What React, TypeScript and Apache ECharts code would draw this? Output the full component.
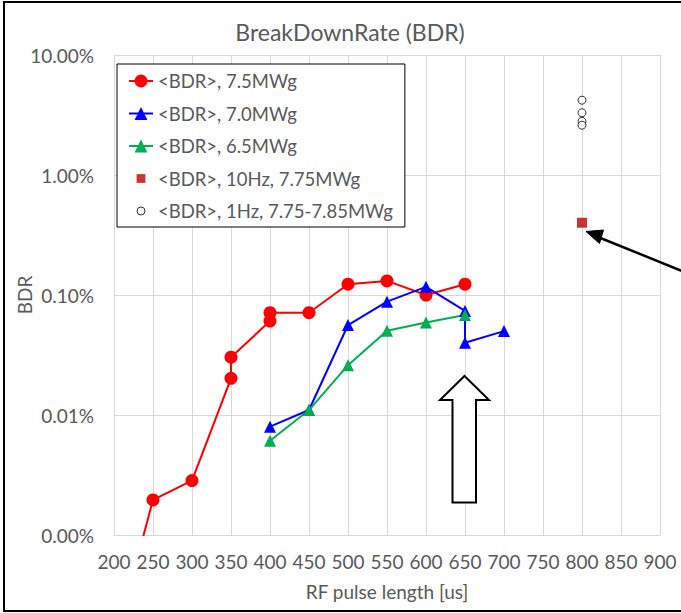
import React, { useEffect, useRef } from "react";
import * as echarts from "echarts";

// ---- data (BDR as fraction, x = RF pulse length in us) ----
const red75X = [200, 250, 300, 350, 350, 400, 400, 450, 500, 550, 600, 650];
const red75Y = [0.0000012, 0.0000196, 0.0000284, 0.000202, 0.000303, 0.000607, 0.000712, 0.000712, 0.00123, 0.00131, 0.001, 0.00123];

const blue70X = [400, 450, 500, 550, 600, 650, 650, 700];
const blue70Y = [0.00008, 0.00011, 0.000562, 0.00088, 0.00117, 0.000736, 0.0004, 0.0005];

const green65X = [400, 450, 500, 550, 600, 650];
const green65Y = [0.000061, 0.00011, 0.00026, 0.000504, 0.00059, 0.00068];

const sq10HzX = [800];
const sq10HzY = [0.004];

const circ1HzX = [800, 800, 800, 800];
const circ1HzY = [0.042, 0.033, 0.028, 0.026];

const seriesNames = [
  "<BDR>, 7.5MWg",
  "<BDR>, 7.0MWg",
  "<BDR>, 6.5MWg",
  "<BDR>, 10Hz, 7.75MWg",
  "<BDR>, 1Hz, 7.75-7.85MWg",
];

const xTicks = { min: 200, max: 900, interval: 50 };
const yRange = { min: 0.00001, max: 0.1 };

const zip = (xs: number[], ys: number[]) => xs.map((x, i) => [x, ys[i]]);

const FONT = "Lato";
const TXT = "#595959";
const FS = 19;

export default function App() {
  const ref = useRef<HTMLDivElement>(null);
  useEffect(() => {
    if (!ref.current) return;
    const chart = echarts.init(ref.current, undefined, { renderer: "svg" });
    chart.setOption({
      animation: false,
      backgroundColor: "#fff",
      title: {
        text: "BreakDownRate (BDR)",
        left: 345,
        textAlign: "center",
        top: 15,
        textStyle: { fontFamily: FONT, fontSize: 23, fontWeight: "normal", color: TXT },
      },
      grid: {
        left: 114,
        right: 21,
        top: 55,
        bottom: 78,
        containLabel: false,
        outerBoundsMode: "none",
      },
      legend: {
        orient: "vertical",
        left: 117,
        top: 64,
        backgroundColor: "#fff",
        borderColor: "#000",
        borderWidth: 1,
        borderRadius: 0,
        padding: [7, 12, 6, 11],
        itemGap: 12.5,
        itemWidth: 24,
        itemHeight: 16,
        textStyle: { fontFamily: FONT, fontSize: 18.5, color: TXT, lineHeight: 20 },
        data: [
          { name: seriesNames[0] },
          { name: seriesNames[1] },
          { name: seriesNames[2] },
          {
            name: seriesNames[3],
            icon: "path://M0,0M20,20M4.5,4.5h11v11h-11z",
          },
          {
            name: seriesNames[4],
            icon: "path://M0,0M20,20M5,10a5,5 0 1,0 10,0a5,5 0 1,0 -10,0z",
            itemStyle: { color: "#fff", borderColor: "#000", borderWidth: 1 },
          },
        ],
      },
      xAxis: {
        type: "value",
        min: xTicks.min,
        max: xTicks.max,
        interval: xTicks.interval,
        name: "RF pulse length [us]",
        nameLocation: "middle",
        nameGap: 47,
        nameMoveOverlap: false,
        nameTextStyle: { fontFamily: FONT, fontSize: FS, color: TXT },
        axisLine: { show: true, lineStyle: { color: "#d9d9d9", width: 1 } },
        axisTick: { show: false },
        axisLabel: { fontFamily: FONT, fontSize: FS, color: TXT, margin: 17 },
        splitLine: { show: true, lineStyle: { color: "#d9d9d9", width: 1 } },
      },
      yAxis: {
        type: "log",
        logBase: 10,
        min: yRange.min,
        max: yRange.max,
        splitNumber: 4,
        name: "BDR",
        nameLocation: "middle",
        nameGap: 80,
        nameMoveOverlap: false,
        nameTextStyle: { fontFamily: FONT, fontSize: FS, color: TXT },
        axisLine: { show: true, lineStyle: { color: "#d9d9d9", width: 1 } },
        axisTick: { show: false },
        minorTick: { show: false },
        minorSplitLine: { show: false },
        axisLabel: {
          fontFamily: FONT,
          fontSize: FS,
          color: TXT,
          margin: 20,
          formatter: (v: number) => (v * 100).toFixed(2) + "%",
        },
        splitLine: { show: true, lineStyle: { color: "#d9d9d9", width: 1 } },
      },
      series: [
        {
          name: seriesNames[0],
          type: "line",
          data: zip(red75X, red75Y),
          symbol: "circle",
          symbolSize: 13,
          clip: true,
          color: "#ff0000",
          lineStyle: { width: 2, color: "#ff0000" },
          itemStyle: { color: "#ff0000" },
        },
        {
          name: seriesNames[1],
          type: "line",
          data: zip(blue70X, blue70Y),
          symbol: "triangle",
          symbolSize: 12,
          clip: true,
          color: "#0000ff",
          lineStyle: { width: 2, color: "#0000ff" },
          itemStyle: { color: "#0000ff" },
        },
        {
          name: seriesNames[2],
          type: "line",
          data: zip(green65X, green65Y),
          symbol: "triangle",
          symbolSize: 12,
          clip: true,
          color: "#00b050",
          lineStyle: { width: 2, color: "#00b050" },
          itemStyle: { color: "#00b050" },
        },
        {
          name: seriesNames[3],
          type: "scatter",
          data: zip(sq10HzX, sq10HzY),
          symbol: "rect",
          symbolSize: 10,
          color: "#c00000",
          itemStyle: { color: "#c00000" },
        },
        {
          name: seriesNames[4],
          type: "scatter",
          data: zip(circ1HzX, circ1HzY),
          symbol: "circle",
          symbolSize: 8,
          color: "#000",
          itemStyle: { color: "#fff", borderColor: "#000", borderWidth: 1 },
        },
      ],
      graphic: [
        {
          type: "rect",
          shape: { x: 4, y: 2, width: 720, height: 609 },
          style: { fill: "none", stroke: "#000", lineWidth: 2 },
          silent: true,
          z: 100,
        },
        {
          type: "polygon",
          shape: {
            points: [
              [464.5, 376],
              [489, 400],
              [476, 400],
              [476, 502.5],
              [452.5, 502.5],
              [452.5, 400],
              [440, 400],
            ],
          },
          style: { fill: "#fff", stroke: "#000", lineWidth: 2 },
          z: 100,
        },
        {
          type: "line",
          shape: { x1: 692, y1: 275, x2: 598, y2: 237 },
          style: { stroke: "#000", lineWidth: 2.5 },
          z: 100,
        },
        {
          type: "polygon",
          shape: {
            points: [
              [586, 231.5],
              [603.5, 230],
              [599.5, 243.5],
            ],
          },
          style: { fill: "#000", stroke: "#000", lineWidth: 1 },
          z: 100,
        },
      ],
    });
    return () => chart.dispose();
  }, []);
  return (
    <div
      ref={ref}
      style={{ position: "fixed", left: 0, top: 0, width: 681, height: 613, background: "#fff" }}
    />
  );
}
